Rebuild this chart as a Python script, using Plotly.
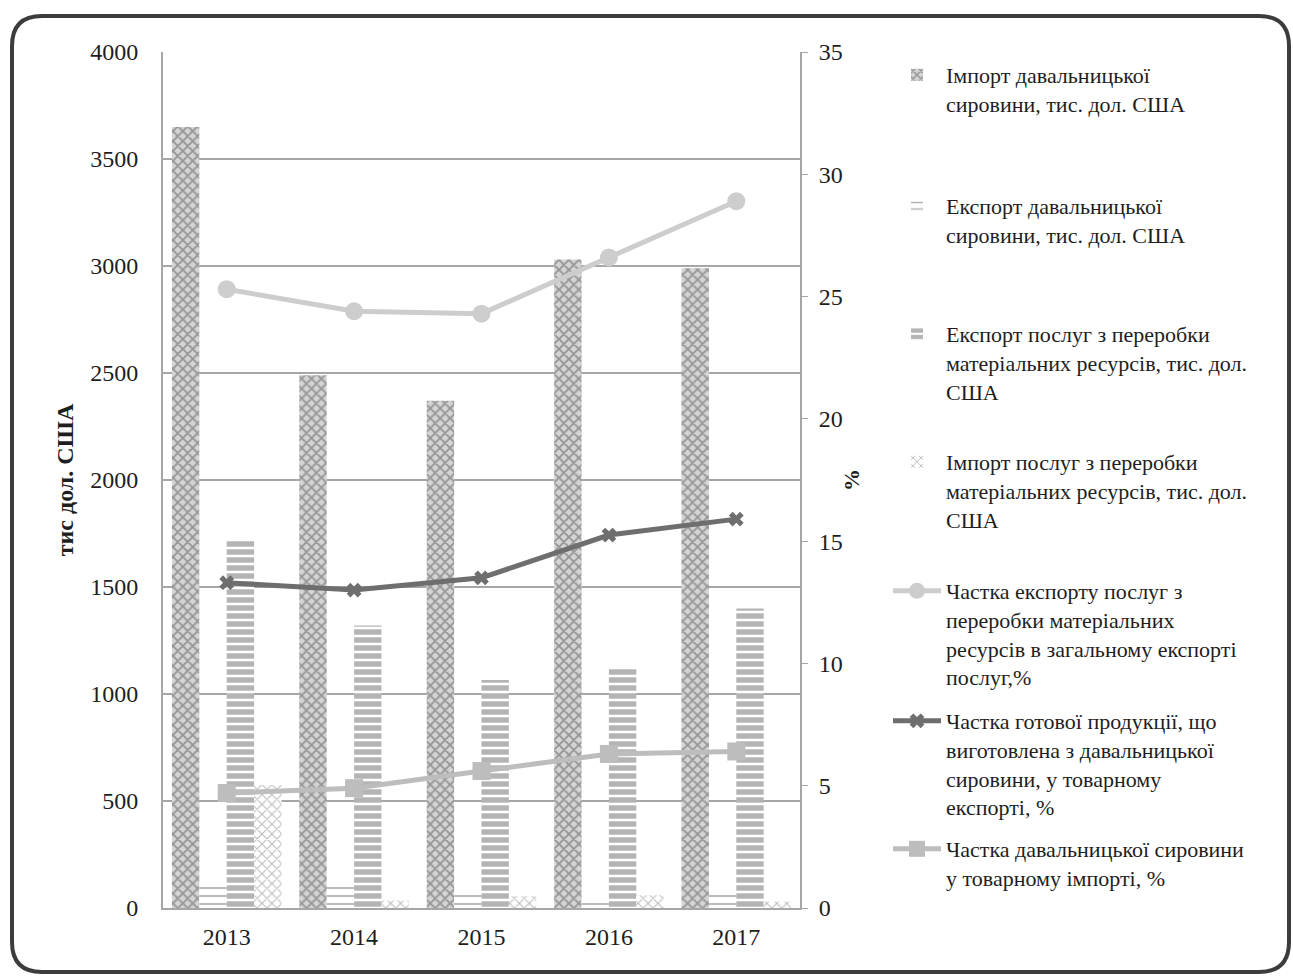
import plotly.graph_objects as go

years = ["2013", "2014", "2015", "2016", "2017"]

# thousand USD (left axis)
import_raw = [3650, 2490, 2370, 3030, 2990]
export_raw = [105, 100, 70, 40, 70]
export_services = [1715, 1320, 1065, 1120, 1400]
import_services = [575, 35, 55, 60, 30]

# percent (right axis)
share_services_export = [25.3, 24.4, 24.3, 26.6, 28.9]
share_finished_goods = [13.3, 13.0, 13.5, 15.25, 15.9]
share_raw_import = [4.7, 4.9, 5.6, 6.3, 6.4]

names = [
    "Імпорт давальницької<br>сировини, тис. дол. США",
    "Експорт давальницької<br>сировини, тис. дол. США",
    "Експорт послуг з переробки<br>матеріальних ресурсів, тис. дол.<br>США",
    "Імпорт послуг з переробки<br>матеріальних ресурсів, тис. дол.<br>США",
    "Частка експорту послуг з<br>переробки матеріальних<br>ресурсів в загальному експорті<br>послуг,%",
    "Частка готової продукції, що<br>виготовлена з давальницької<br>сировини, у товарному<br>експорті, %",
    "Частка давальницької сировини<br>у товарному імпорті, %",
]

FONT = "Liberation Serif"
TXT = "#1e1e1e"
W, H = 1293, 977
L, R, T, B = 163, 800, 52, 908


def px_x(x):
    return (x - L) / (R - L)


def px_y(y):
    return (B - y) / (B - T)


fig = go.Figure()

fig.add_trace(go.Bar(
    x=years, y=import_raw, name=names[0], legend="legend",
    marker=dict(color="#cfcfcf", line_width=0,
                pattern=dict(shape="x", fgcolor="#555555", bgcolor="#d4d4d4", size=7, solidity=0.45)),
))
fig.add_trace(go.Bar(
    x=years, y=export_raw, name=names[1], legend="legend2",
    marker=dict(color="white", line_width=0,
                pattern=dict(shape="-", fgcolor="#555555", bgcolor="white", size=8, solidity=0.2)),
))
fig.add_trace(go.Bar(
    x=years, y=export_services, name=names[2], legend="legend3",
    marker=dict(color="#6a6a6a", line_width=0,
                pattern=dict(shape="-", fgcolor="#6a6a6a", bgcolor="white", size=8, solidity=0.68)),
))
fig.add_trace(go.Bar(
    x=years, y=import_services, name=names[3], legend="legend4",
    marker=dict(color="white", line_width=0,
                pattern=dict(shape="x", fgcolor="#7a7a7a", bgcolor="white", size=7, solidity=0.3)),
))

fig.add_trace(go.Scatter(
    x=years, y=share_services_export, name=names[4], legend="legend5", yaxis="y2",
    mode="lines+markers", line=dict(color="#cdcdcd", width=5),
    marker=dict(symbol="circle", size=18, color="#cdcdcd"),
))
fig.add_trace(go.Scatter(
    x=years, y=share_finished_goods, name=names[5], legend="legend6", yaxis="y2",
    mode="lines+markers", line=dict(color="#6e6e6e", width=5),
    marker=dict(symbol="x", size=13, color="#6e6e6e"),
))
fig.add_trace(go.Scatter(
    x=years, y=share_raw_import, name=names[6], legend="legend7", yaxis="y2",
    mode="lines+markers", line=dict(color="#bdbdbd", width=5),
    marker=dict(symbol="square", size=18, color="#bdbdbd"),
))

legend_tops = [54, 185, 313, 441, 570, 700, 828]
legend_style = dict(font=dict(family=FONT, size=22, color=TXT),
                    bgcolor="rgba(0,0,0,0)", valign="top", xanchor="left",
                    yanchor="top", itemwidth=48, tracegroupgap=0)
legends = {}
for i, top in enumerate(legend_tops):
    key = "legend" if i == 0 else f"legend{i + 1}"
    legends[key] = dict(x=px_x(888), y=px_y(top), **legend_style)

# rounded outer frame
x0, x1, y0, y1, r = 12, 1289, 16, 972, 30
fx0, fx1 = px_x(x0), px_x(x1)
fy0, fy1 = px_y(y0), px_y(y1)
rx = r / (R - L)
ry = r / (B - T)
frame = (f"M {fx0 + rx},{fy0} L {fx1 - rx},{fy0} Q {fx1},{fy0} {fx1},{fy0 - ry} "
         f"L {fx1},{fy1 + ry} Q {fx1},{fy1} {fx1 - rx},{fy1} "
         f"L {fx0 + rx},{fy1} Q {fx0},{fy1} {fx0},{fy1 + ry} "
         f"L {fx0},{fy0 - ry} Q {fx0},{fy0} {fx0 + rx},{fy0} Z")

fig.update_layout(
    width=W, height=H,
    margin=dict(l=L, r=W - R, t=T, b=H - B),
    paper_bgcolor="white", plot_bgcolor="white",
    barmode="group", bargap=0.14, bargroupgap=0,
    font=dict(family=FONT, size=22, color=TXT),
    showlegend=True,
    xaxis=dict(type="category", showline=True, linecolor="#a6a6a6", linewidth=2,
               ticks="", tickfont=dict(size=24, color=TXT), showgrid=False,
               ticklabelstandoff=6),
    yaxis=dict(range=[0, 4000], dtick=500, showgrid=True, gridcolor="#a6a6a6", gridwidth=2,
               showline=True, linecolor="#a6a6a6", linewidth=2, ticks="",
               tickfont=dict(size=24, color=TXT), zeroline=False, ticklabelstandoff=18,
               title=dict(text="<b>тис дол. США</b>", font=dict(size=24, color=TXT), standoff=10)),
    yaxis2=dict(range=[0, 35], dtick=5, overlaying="y", side="right", showgrid=False,
                showline=True, linecolor="#a6a6a6", linewidth=2, ticks="outside", ticklen=6,
                tickcolor="#a6a6a6", tickfont=dict(size=24, color=TXT), zeroline=False,
                ticklabelstandoff=6,
                title=dict(text="<b>%</b>", font=dict(size=22, color=TXT), standoff=2)),
    shapes=[dict(type="path", xref="paper", yref="paper", path=frame,
                 line=dict(color="#3c3c3c", width=4), fillcolor="rgba(0,0,0,0)", layer="above")],
    **legends,
)

fig.write_html("out.html")
